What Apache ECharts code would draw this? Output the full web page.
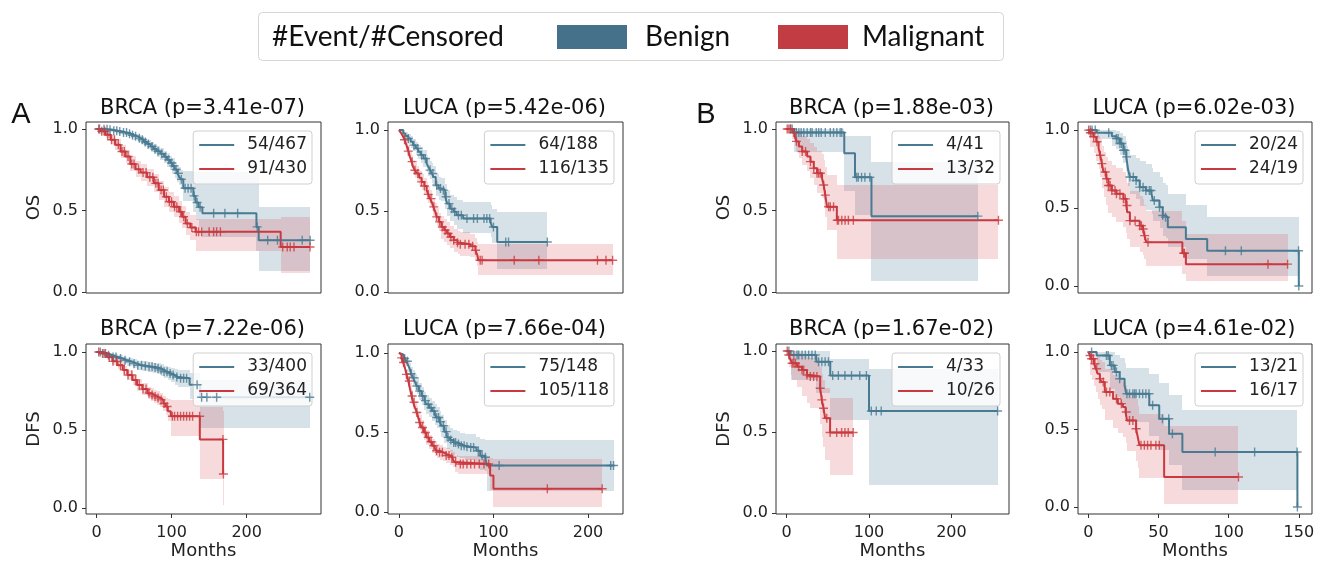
<!DOCTYPE html>
<html lang="en">
<head>
  <meta charset="UTF-8" />
  <title>Kaplan-Meier: Benign vs Malignant</title>
  <script src="https://cdn.jsdelivr.net/npm/echarts@6/dist/echarts.min.js"></script>
  <style>
    html, body { margin: 0; padding: 0; background: #fff; }
    #main { width: 1326px; height: 562px; }
  </style>
</head>
<body>
<div id="main"></div>
<script>
  // ---- A / OS / BRCA ----
  var aOsBrcaBenT = [0, 8, 15, 22, 28, 34, 41, 46, 50, 55, 59, 63, 67.5, 72, 76, 80, 85, 90, 94, 98, 101, 104, 107.5, 110, 112, 115.6, 129, 132, 136, 141, 213, 216, 285];
  var aOsBrcaBenS = [1, 0.998, 0.995, 0.99, 0.985, 0.978, 0.971, 0.962, 0.955, 0.944, 0.934, 0.921, 0.908, 0.893, 0.877, 0.864, 0.848, 0.83, 0.811, 0.792, 0.774, 0.752, 0.729, 0.71, 0.692, 0.637, 0.59, 0.55, 0.52, 0.483, 0.40, 0.318, 0.318];
  var aOsBrcaBenHi = [1, 1, 1, 0.998, 0.995, 0.99, 0.985, 0.978, 0.972, 0.964, 0.956, 0.945, 0.934, 0.922, 0.908, 0.897, 0.884, 0.868, 0.852, 0.836, 0.82, 0.80, 0.78, 0.765, 0.75, 0.74, 0.735, 0.735, 0.735, 0.735, 0.735, 0.52, 0.52];
  var aOsBrcaBenLo = [1, 0.994, 0.988, 0.98, 0.972, 0.963, 0.955, 0.944, 0.935, 0.922, 0.91, 0.895, 0.88, 0.862, 0.844, 0.828, 0.81, 0.79, 0.768, 0.746, 0.726, 0.702, 0.676, 0.654, 0.634, 0.56, 0.49, 0.44, 0.40, 0.34, 0.25, 0.13, 0.13];
  var aOsBrcaBenCens = [4, 10, 14, 18, 23, 27, 31, 36, 40, 44, 48, 52, 57, 61, 65, 69, 74, 78, 82, 87, 92, 96, 100, 103, 106, 109, 113, 118, 122, 126, 130, 134, 138, 156, 171, 188, 214, 228, 241, 274, 284.5];
  var aOsBrcaMalT = [0, 5.3, 12, 18.7, 25, 32, 38.7, 45, 52, 58.7, 67.5, 76.4, 83, 90, 96.4, 103, 110, 114, 118.7, 125, 132, 245.3, 284.4];
  var aOsBrcaMalS = [1, 0.986, 0.965, 0.934, 0.903, 0.862, 0.832, 0.786, 0.754, 0.733, 0.704, 0.667, 0.626, 0.585, 0.554, 0.524, 0.493, 0.462, 0.421, 0.396, 0.37, 0.277, 0.277];
  var aOsBrcaMalHi = [1, 0.998, 0.985, 0.962, 0.937, 0.9, 0.874, 0.832, 0.803, 0.784, 0.757, 0.722, 0.684, 0.646, 0.617, 0.588, 0.56, 0.53, 0.492, 0.47, 0.45, 0.46, 0.46];
  var aOsBrcaMalLo = [1, 0.972, 0.945, 0.906, 0.869, 0.824, 0.79, 0.74, 0.705, 0.682, 0.651, 0.612, 0.568, 0.524, 0.491, 0.46, 0.426, 0.394, 0.35, 0.32, 0.255, 0.12, 0.12];
  var aOsBrcaMalCens = [3, 7, 11, 15, 20, 24, 29, 34, 37, 42, 47, 50, 56, 62, 66, 71, 75, 79, 82, 86, 89, 93, 97, 100, 104, 107, 112, 116, 121, 127, 133, 136, 140, 150, 156, 160, 165, 248, 254, 258, 263, 284.4];

  // ---- A / OS / LUCA ----
  var aOsLucaBenT = [0, 4.6, 7, 10, 12.5, 15, 18, 20.5, 23, 26, 29.4, 31, 33, 35, 36.5, 39, 42, 45, 49, 51, 54, 58, 61, 68, 97, 98.6, 104, 157];
  var aOsLucaBenS = [1, 0.979, 0.964, 0.948, 0.928, 0.907, 0.887, 0.866, 0.846, 0.825, 0.794, 0.774, 0.753, 0.732, 0.711, 0.66, 0.639, 0.629, 0.588, 0.546, 0.515, 0.495, 0.474, 0.454, 0.43, 0.402, 0.309, 0.309];
  var aOsLucaBenHi = [1, 1, 0.99, 0.978, 0.962, 0.945, 0.928, 0.91, 0.893, 0.875, 0.848, 0.83, 0.812, 0.794, 0.776, 0.73, 0.712, 0.705, 0.668, 0.63, 0.602, 0.585, 0.567, 0.557, 0.54, 0.515, 0.495, 0.495];
  var aOsLucaBenLo = [1, 0.955, 0.935, 0.915, 0.892, 0.868, 0.846, 0.822, 0.799, 0.775, 0.741, 0.718, 0.695, 0.672, 0.649, 0.594, 0.571, 0.56, 0.515, 0.47, 0.436, 0.413, 0.39, 0.366, 0.34, 0.305, 0.145, 0.145];
  var aOsLucaBenCens = [10, 16, 20, 24, 28, 33, 36, 40, 44, 47, 50, 53, 56, 59, 63, 66, 72, 79, 83, 90, 93, 96, 100, 113, 116, 157];
  var aOsLucaMalT = [0, 2, 4, 6, 8, 10, 11.7, 13.5, 15, 17, 19, 21.5, 24, 27, 29.4, 31, 33, 35, 36.5, 38.5, 40, 42.5, 45, 48, 51, 54, 58, 62, 65, 75.5, 81, 83, 84, 226];
  var aOsLucaMalS = [1, 0.985, 0.965, 0.94, 0.907, 0.87, 0.835, 0.805, 0.773, 0.752, 0.732, 0.705, 0.68, 0.655, 0.629, 0.603, 0.577, 0.552, 0.526, 0.495, 0.464, 0.433, 0.402, 0.382, 0.361, 0.34, 0.32, 0.305, 0.295, 0.282, 0.258, 0.227, 0.196, 0.196];
  var aOsLucaMalHi = [1, 1, 0.99, 0.97, 0.94, 0.905, 0.873, 0.845, 0.815, 0.795, 0.776, 0.75, 0.727, 0.703, 0.678, 0.653, 0.628, 0.604, 0.579, 0.549, 0.519, 0.489, 0.47, 0.45, 0.43, 0.41, 0.39, 0.375, 0.37, 0.36, 0.335, 0.31, 0.295, 0.295];
  var aOsLucaMalLo = [1, 0.965, 0.94, 0.91, 0.872, 0.832, 0.795, 0.763, 0.729, 0.707, 0.686, 0.658, 0.632, 0.605, 0.578, 0.551, 0.524, 0.498, 0.471, 0.44, 0.408, 0.377, 0.33, 0.31, 0.29, 0.27, 0.25, 0.235, 0.225, 0.215, 0.19, 0.16, 0.105, 0.105];
  var aOsLucaMalCens = [6, 10, 14, 17, 20, 24, 27, 31, 34, 37, 40, 43, 46, 49, 52, 55, 58, 62, 65, 70, 74, 78, 81, 86, 88, 122, 148, 210, 219, 226];

  // ---- B / OS / BRCA ----
  var bOsBrcaBenT = [0, 9, 70, 83, 103, 232];
  var bOsBrcaBenS = [1, 0.979, 0.852, 0.704, 0.466, 0.466];
  var bOsBrcaBenHi = [1, 1, 0.955, 0.955, 0.795, 0.795];
  var bOsBrcaBenLo = [1, 0.86, 0.62, 0.47, 0.07, 0.07];
  var bOsBrcaBenCens = [4.8, 6.8, 12, 14.9, 17.7, 20.9, 25, 29, 31, 36, 39, 42, 47, 53, 57, 61, 65, 67, 85, 87, 91, 95, 101, 232];
  var bOsBrcaMalT = [0, 7, 10, 12, 15, 19, 25, 29, 33, 37, 43, 45, 47, 49, 61, 257];
  var bOsBrcaMalS = [1, 0.979, 0.955, 0.924, 0.893, 0.862, 0.832, 0.80, 0.76, 0.729, 0.698, 0.657, 0.595, 0.524, 0.441, 0.441];
  var bOsBrcaMalHi = [1, 1, 1, 0.99, 0.975, 0.955, 0.94, 0.915, 0.89, 0.865, 0.845, 0.81, 0.77, 0.72, 0.657, 0.657];
  var bOsBrcaMalLo = [1, 0.94, 0.90, 0.86, 0.82, 0.78, 0.745, 0.70, 0.655, 0.61, 0.575, 0.53, 0.46, 0.38, 0.205, 0.205];
  var bOsBrcaMalCens = [0.8, 2.8, 4.8, 8.8, 12, 19, 23, 29, 33, 37, 39, 41, 45, 47, 51, 53, 57, 61.5, 63, 67, 71, 75, 81, 257];

  // ---- B / OS / LUCA ----
  var bOsLucaBenT = [0, 6, 16.7, 20, 22.5, 25, 27, 27.7, 28.4, 29.6, 34, 36.6, 41, 45, 46, 50.7, 53, 55, 56.6, 69.5, 84.7, 150];
  var bOsLucaBenS = [1, 0.983, 0.961, 0.946, 0.914, 0.871, 0.828, 0.785, 0.742, 0.699, 0.677, 0.634, 0.613, 0.591, 0.548, 0.505, 0.452, 0.441, 0.376, 0.301, 0.226, 0];
  var bOsLucaBenHi = [1, 1, 1, 0.995, 0.98, 0.96, 0.93, 0.90, 0.87, 0.84, 0.82, 0.80, 0.78, 0.76, 0.73, 0.70, 0.66, 0.65, 0.59, 0.52, 0.445, 0.445];
  var bOsLucaBenLo = [1, 0.94, 0.90, 0.88, 0.84, 0.79, 0.74, 0.69, 0.64, 0.59, 0.56, 0.51, 0.49, 0.46, 0.42, 0.37, 0.32, 0.31, 0.25, 0.17, 0.065, 0.065];
  var bOsLucaBenCens = [1.4, 2.6, 4.9, 14.5, 20, 21.2, 22.5, 23.7, 25, 26, 27.2, 29.6, 32, 34, 36.6, 39, 41, 43.4, 44.6, 47, 50.7, 53, 55, 97.7, 109, 149.8, 150];
  var bOsLucaMalT = [0, 1.4, 3.8, 5.6, 7.3, 8.5, 9.6, 10.8, 12.7, 14.3, 16.7, 20, 25, 27, 27.7, 29.6, 36.6, 39, 40, 41.3, 67, 69.5, 142];
  var bOsLucaMalS = [1, 0.983, 0.957, 0.925, 0.882, 0.839, 0.785, 0.731, 0.688, 0.645, 0.613, 0.591, 0.559, 0.516, 0.473, 0.419, 0.387, 0.366, 0.323, 0.28, 0.21, 0.14, 0.14];
  var bOsLucaMalHi = [1, 1, 1, 0.99, 0.965, 0.94, 0.90, 0.86, 0.83, 0.80, 0.775, 0.76, 0.73, 0.70, 0.66, 0.61, 0.58, 0.56, 0.52, 0.48, 0.42, 0.335, 0.335];
  var bOsLucaMalLo = [1, 0.89, 0.85, 0.80, 0.75, 0.70, 0.63, 0.57, 0.52, 0.47, 0.44, 0.41, 0.38, 0.34, 0.30, 0.25, 0.22, 0.20, 0.17, 0.13, 0.08, 0.03, 0.03];
  var bOsLucaMalCens = [0.2, 1.4, 2.6, 3.8, 6.1, 8.5, 9.6, 12, 13.1, 14.3, 15.5, 16.7, 19, 20, 22.5, 25, 26.3, 27.5, 29.6, 33.3, 36.6, 37.8, 39, 40.1, 42.5, 68, 68.5, 128, 142];

  // ---- A / DFS / BRCA ----
  var aDfsBrcaBenT = [0, 8, 15, 22, 28, 35, 41, 48, 54, 61, 68, 75, 81, 86, 90, 95, 99, 104, 108, 124, 138, 285];
  var aDfsBrcaBenS = [1, 0.99, 0.979, 0.968, 0.958, 0.947, 0.937, 0.925, 0.915, 0.91, 0.905, 0.90, 0.894, 0.884, 0.873, 0.862, 0.852, 0.84, 0.831, 0.79, 0.71, 0.71];
  var aDfsBrcaBenHi = [1, 1, 0.99, 0.985, 0.978, 0.97, 0.962, 0.952, 0.945, 0.94, 0.936, 0.932, 0.928, 0.92, 0.912, 0.905, 0.898, 0.89, 0.885, 0.865, 0.82, 0.82];
  var aDfsBrcaBenLo = [1, 0.98, 0.965, 0.95, 0.938, 0.924, 0.91, 0.896, 0.885, 0.878, 0.872, 0.866, 0.858, 0.845, 0.833, 0.82, 0.806, 0.79, 0.775, 0.70, 0.515, 0.515];
  var aDfsBrcaBenCens = [5, 10, 16, 22, 26, 32, 38, 44, 50, 55, 60, 65, 70, 74, 78, 82, 86, 90, 94, 98, 102, 107, 112, 116, 120, 134, 140, 147, 160, 284];
  var aDfsBrcaMalT = [0, 7, 14, 21, 28, 35, 41, 48, 54, 61, 68, 73, 77, 81, 85, 89, 92, 95, 99, 137.6, 168.6, 169.2];
  var aDfsBrcaMalS = [1, 0.99, 0.968, 0.94, 0.915, 0.885, 0.852, 0.82, 0.789, 0.762, 0.736, 0.725, 0.715, 0.705, 0.693, 0.67, 0.651, 0.62, 0.588, 0.44, 0.218, 0.218];
  var aDfsBrcaMalHi = [1, 1, 0.985, 0.962, 0.94, 0.912, 0.882, 0.853, 0.825, 0.80, 0.775, 0.766, 0.758, 0.75, 0.74, 0.72, 0.705, 0.70, 0.69, 0.65, 0.62, 0.62];
  var aDfsBrcaMalLo = [1, 0.98, 0.952, 0.918, 0.89, 0.858, 0.822, 0.787, 0.753, 0.724, 0.697, 0.684, 0.672, 0.66, 0.646, 0.62, 0.597, 0.56, 0.46, 0.185, 0.02, 0.02];
  var aDfsBrcaMalCens = [3, 8, 12, 17, 22, 27, 32, 37, 42, 47, 52, 57, 62, 66, 70, 74, 78, 82, 86, 90, 94, 101, 104, 108, 112, 116, 120, 124, 128, 137.4, 168.4, 169];

  // ---- A / DFS / LUCA ----
  var aDfsLucaBenT = [0, 2, 4.6, 6, 8, 10, 11.7, 13, 15, 17, 18.7, 21, 24, 27, 29, 32, 35, 38, 40, 43, 45, 48, 50.5, 54, 57.6, 61, 64.7, 70, 75, 82, 86, 91, 93, 227];
  var aDfsLucaBenS = [1, 0.99, 0.979, 0.965, 0.948, 0.92, 0.896, 0.87, 0.844, 0.818, 0.792, 0.76, 0.729, 0.70, 0.677, 0.655, 0.635, 0.612, 0.594, 0.567, 0.542, 0.505, 0.469, 0.452, 0.4375, 0.427, 0.417, 0.41, 0.406, 0.385, 0.354, 0.344, 0.292, 0.292];
  var aDfsLucaBenHi = [1, 1, 0.995, 0.985, 0.975, 0.955, 0.935, 0.912, 0.89, 0.866, 0.842, 0.812, 0.783, 0.756, 0.735, 0.715, 0.697, 0.676, 0.66, 0.635, 0.612, 0.578, 0.545, 0.53, 0.516, 0.507, 0.498, 0.492, 0.49, 0.47, 0.462, 0.455, 0.452, 0.452];
  var aDfsLucaBenLo = [1, 0.975, 0.955, 0.94, 0.915, 0.882, 0.855, 0.826, 0.797, 0.768, 0.74, 0.706, 0.672, 0.642, 0.618, 0.595, 0.573, 0.55, 0.53, 0.50, 0.474, 0.435, 0.395, 0.375, 0.36, 0.348, 0.337, 0.33, 0.325, 0.30, 0.265, 0.255, 0.135, 0.135];
  var aDfsLucaBenCens = [6, 9, 13, 16, 19, 22, 25, 28, 31, 34, 37, 40, 42, 44, 47, 50, 52, 55, 58, 60, 63, 66, 69, 72, 76, 79, 84, 88, 91.5, 106, 224, 227];
  var aDfsLucaMalT = [0, 1, 2.8, 4.5, 6.4, 8, 10, 11.7, 13.4, 15, 17, 19, 20.5, 22, 24, 26.5, 29, 32, 35, 38, 40, 43, 47, 50, 54, 57, 59, 63, 96.5, 100, 215];
  var aDfsLucaMalS = [1, 0.99, 0.969, 0.94, 0.906, 0.865, 0.823, 0.775, 0.729, 0.69, 0.656, 0.625, 0.594, 0.563, 0.531, 0.50, 0.469, 0.442, 0.417, 0.40, 0.385, 0.375, 0.365, 0.355, 0.344, 0.33, 0.3125, 0.302, 0.229, 0.146, 0.146];
  var aDfsLucaMalHi = [1, 1, 0.99, 0.965, 0.935, 0.898, 0.858, 0.812, 0.768, 0.73, 0.698, 0.668, 0.638, 0.607, 0.576, 0.545, 0.514, 0.487, 0.462, 0.445, 0.43, 0.42, 0.41, 0.40, 0.39, 0.376, 0.36, 0.355, 0.34, 0.333, 0.333];
  var aDfsLucaMalLo = [1, 0.975, 0.945, 0.91, 0.872, 0.828, 0.784, 0.735, 0.688, 0.648, 0.612, 0.58, 0.548, 0.516, 0.484, 0.453, 0.423, 0.396, 0.372, 0.355, 0.34, 0.33, 0.32, 0.31, 0.298, 0.285, 0.25, 0.24, 0.14, 0.03, 0.03];
  var aDfsLucaMalCens = [3, 5, 8, 11, 14, 16, 19, 22, 25, 28, 31, 34, 37, 40, 43, 46, 50, 53, 56, 60, 65, 68, 72, 76, 80, 85, 90, 95, 157, 215];

  // ---- B / DFS / BRCA ----
  var bDfsBrcaBenT = [0, 4.8, 36, 53, 100, 256];
  var bDfsBrcaBenS = [1, 0.975, 0.934, 0.848, 0.63, 0.63];
  var bDfsBrcaBenHi = [1, 1, 1, 0.95, 0.887, 0.887];
  var bDfsBrcaBenLo = [1, 0.82, 0.74, 0.575, 0.175, 0.175];
  var bDfsBrcaBenCens = [2.8, 8.8, 12.8, 14.8, 18.8, 22.8, 26.8, 30.8, 34.8, 38.8, 42.8, 46.8, 50.8, 56, 62.8, 70.8, 78.8, 88.8, 96.8, 102.8, 108.8, 114.8, 256];
  var bDfsBrcaMalT = [0, 2.8, 4.8, 6.8, 12.8, 18.8, 24.8, 28.8, 40.8, 42.8, 44.8, 46.8, 52.8, 80.8];
  var bDfsBrcaMalS = [1, 0.975, 0.945, 0.924, 0.903, 0.883, 0.852, 0.842, 0.77, 0.698, 0.647, 0.585, 0.497, 0.497];
  var bDfsBrcaMalHi = [1, 1, 1, 1, 0.99, 0.98, 0.96, 0.955, 0.90, 0.86, 0.82, 0.77, 0.71, 0.71];
  var bDfsBrcaMalLo = [1, 0.90, 0.85, 0.82, 0.78, 0.72, 0.68, 0.65, 0.55, 0.47, 0.41, 0.33, 0.235, 0.235];
  var bDfsBrcaMalCens = [0.8, 2.8, 6.8, 8.8, 10.8, 14.8, 18.8, 20.8, 24.8, 28.8, 32.8, 36.8, 40.8, 42.8, 44.8, 48.8, 52.8, 60.8, 66.8, 70.8, 74.8, 80.8];

  // ---- B / DFS / LUCA ----
  var bDfsLucaBenT = [0, 5.9, 15.3, 18.8, 22.3, 25.8, 27, 43.4, 50.5, 57.5, 67, 149];
  var bDfsLucaBenS = [1, 0.978, 0.914, 0.871, 0.828, 0.785, 0.731, 0.656, 0.57, 0.473, 0.355, 0];
  var bDfsLucaBenHi = [1, 1, 1, 0.98, 0.96, 0.93, 0.90, 0.86, 0.80, 0.72, 0.625, 0.625];
  var bDfsLucaBenLo = [1, 0.87, 0.76, 0.71, 0.66, 0.61, 0.55, 0.46, 0.37, 0.27, 0.11, 0.11];
  var bDfsLucaBenCens = [2.3, 12.9, 14.1, 16.4, 17.6, 20, 22.3, 27.5, 29.3, 31.7, 32.9, 34, 36.4, 38.7, 41, 43.2, 45.8, 52.8, 57.3, 59.9, 90.4, 118.5, 148.8, 149];
  var bDfsLucaMalT = [0, 1.2, 2.3, 4, 5.4, 6.6, 8.2, 9.4, 11.7, 17.6, 21, 24.6, 26.5, 27.5, 34, 35.2, 36.4, 54, 107];
  var bDfsLucaMalS = [1, 0.978, 0.957, 0.925, 0.892, 0.86, 0.828, 0.806, 0.742, 0.699, 0.667, 0.645, 0.613, 0.559, 0.505, 0.452, 0.398, 0.194, 0.194];
  var bDfsLucaMalHi = [1, 1, 1, 1, 0.99, 0.97, 0.95, 0.935, 0.89, 0.855, 0.83, 0.81, 0.785, 0.74, 0.70, 0.65, 0.60, 0.52, 0.52];
  var bDfsLucaMalLo = [1, 0.85, 0.82, 0.78, 0.74, 0.70, 0.66, 0.635, 0.56, 0.51, 0.475, 0.45, 0.415, 0.36, 0.30, 0.25, 0.19, 0.02, 0.02];
  var bDfsLucaMalCens = [1.2, 2.3, 3.5, 4.7, 5.9, 8.2, 10.6, 12.9, 15.3, 20, 23.5, 27, 29.3, 31.7, 34, 37.5, 39.9, 42.2, 44.6, 48.1, 50.5, 107];

  var yTicks = [0, 0.5, 1];
  var xTicks200 = [0, 100, 200];
  var xTicks150 = [0, 50, 100, 150];

  // layout (px)
  var colLeft = [86, 388, 776, 1078];
  var colWidth = [235, 235, 233, 234];
  var rowTop = [122, 344];
  var rowHeight = [171, 170];
  var colX = [[-14, 299], [-11.5, 237], [-12.8, 269.8], [-7.4, 159.4]];

  var BLUE = '#487a91', RED = '#c9393f';
  var BLUE_BAND = 'rgba(75,125,150,0.22)', RED_BAND = 'rgba(215,70,80,0.2)';
  var PLUS = 'path://M0,3.8H9V5.2H0ZM3.8,0H5.2V9H3.8Z';
  var FONT = 'DejaVu Sans';

  var panels = [
    { row: 0, col: 0, title: 'BRCA (p=3.41e-07)', ylabel: 'OS', yr: [-0.005, 1.043], xt: xTicks200,
      ben: ['54/467', aOsBrcaBenT, aOsBrcaBenS, aOsBrcaBenHi, aOsBrcaBenLo, aOsBrcaBenCens],
      mal: ['91/430', aOsBrcaMalT, aOsBrcaMalS, aOsBrcaMalHi, aOsBrcaMalLo, aOsBrcaMalCens] },
    { row: 0, col: 1, title: 'LUCA (p=5.42e-06)', ylabel: '', yr: [-0.006, 1.05], xt: xTicks200,
      ben: ['64/188', aOsLucaBenT, aOsLucaBenS, aOsLucaBenHi, aOsLucaBenLo, aOsLucaBenCens],
      mal: ['116/135', aOsLucaMalT, aOsLucaMalS, aOsLucaMalHi, aOsLucaMalLo, aOsLucaMalCens] },
    { row: 0, col: 2, title: 'BRCA (p=1.88e-03)', ylabel: 'OS', yr: [-0.005, 1.043], xt: xTicks200,
      ben: ['4/41', bOsBrcaBenT, bOsBrcaBenS, bOsBrcaBenHi, bOsBrcaBenLo, bOsBrcaBenCens],
      mal: ['13/32', bOsBrcaMalT, bOsBrcaMalS, bOsBrcaMalHi, bOsBrcaMalLo, bOsBrcaMalCens] },
    { row: 0, col: 3, title: 'LUCA (p=6.02e-03)', ylabel: '', yr: [-0.045, 1.052], xt: xTicks150,
      ben: ['20/24', bOsLucaBenT, bOsLucaBenS, bOsLucaBenHi, bOsLucaBenLo, bOsLucaBenCens],
      mal: ['24/19', bOsLucaMalT, bOsLucaMalS, bOsLucaMalHi, bOsLucaMalLo, bOsLucaMalCens] },
    { row: 1, col: 0, title: 'BRCA (p=7.22e-06)', ylabel: 'DFS', yr: [-0.038, 1.051], xt: xTicks200,
      ben: ['33/400', aDfsBrcaBenT, aDfsBrcaBenS, aDfsBrcaBenHi, aDfsBrcaBenLo, aDfsBrcaBenCens],
      mal: ['69/364', aDfsBrcaMalT, aDfsBrcaMalS, aDfsBrcaMalHi, aDfsBrcaMalLo, aDfsBrcaMalCens] },
    { row: 1, col: 1, title: 'LUCA (p=7.66e-04)', ylabel: '', yr: [-0.0125, 1.056], xt: xTicks200,
      ben: ['75/148', aDfsLucaBenT, aDfsLucaBenS, aDfsLucaBenHi, aDfsLucaBenLo, aDfsLucaBenCens],
      mal: ['105/118', aDfsLucaMalT, aDfsLucaMalS, aDfsLucaMalHi, aDfsLucaMalLo, aDfsLucaMalCens] },
    { row: 1, col: 2, title: 'BRCA (p=1.67e-02)', ylabel: 'DFS', yr: [-0.006, 1.043], xt: xTicks200,
      ben: ['4/33', bDfsBrcaBenT, bDfsBrcaBenS, bDfsBrcaBenHi, bDfsBrcaBenLo, bDfsBrcaBenCens],
      mal: ['10/26', bDfsBrcaMalT, bDfsBrcaMalS, bDfsBrcaMalHi, bDfsBrcaMalLo, bDfsBrcaMalCens] },
    { row: 1, col: 3, title: 'LUCA (p=4.61e-02)', ylabel: '', yr: [-0.045, 1.052], xt: xTicks150,
      ben: ['13/21', bDfsLucaBenT, bDfsLucaBenS, bDfsLucaBenHi, bDfsLucaBenLo, bDfsLucaBenCens],
      mal: ['16/17', bDfsLucaMalT, bDfsLucaMalS, bDfsLucaMalHi, bDfsLucaMalLo, bDfsLucaMalCens] }
  ];

  // survival value at time t (step function)
  function survAt(ts, ss, t) {
    var k = 0;
    for (var j = 0; j < ts.length; j++) {
      if (ts[j] <= t) k = j;
    }
    return ss[k];
  }

  function bandItem(params, api) {
    var a = api.coord([api.value(0), api.value(3)]);
    var b = api.coord([api.value(1), api.value(2)]);
    var l = Math.round(a[0]), r = Math.round(b[0]);
    var t = Math.round(a[1]), btm = Math.round(b[1]);
    return {
      type: 'rect',
      shape: { x: l, y: t, width: r - l, height: btm - t },
      style: { fill: api.visual('color') }
    };
  }

  var grid = [], xAxis = [], yAxis = [], series = [], legend = [], graphic = [];

  panels.forEach(function (p, i) {
    var left = colLeft[p.col], width = colWidth[p.col];
    var top = rowTop[p.row], height = rowHeight[p.row];
    var bottomRow = p.row === 1;

    grid.push({ left: left, top: top, width: width, height: height, show: true,
      borderColor: '#333', borderWidth: 1, outerBoundsMode: 'none' });

    xAxis.push({
      type: 'value', gridIndex: i, min: colX[p.col][0], max: colX[p.col][1],
      axisLine: { show: false, onZero: false }, splitLine: { show: false },
      axisTick: { show: bottomRow, length: 4, lineStyle: { color: '#333' }, customValues: p.xt },
      axisLabel: { show: bottomRow, customValues: p.xt, margin: 11, fontSize: 16, color: '#222', fontFamily: FONT },
      name: bottomRow ? 'Months' : '', nameLocation: 'middle', nameGap: 24,
      nameTextStyle: { fontSize: 18, color: '#222', fontFamily: FONT }
    });

    yAxis.push({
      type: 'value', gridIndex: i, min: p.yr[0], max: p.yr[1],
      axisLine: { show: false, onZero: false }, splitLine: { show: false },
      axisTick: { show: true, length: 4, lineStyle: { color: '#333' }, customValues: yTicks },
      axisLabel: { customValues: yTicks, margin: 8, fontSize: 16, color: '#222', fontFamily: FONT,
        formatter: function (v) { return v.toFixed(1); } },
      name: p.ylabel, nameLocation: 'middle', nameGap: 43, nameRotate: 90,
      nameTextStyle: { fontSize: 18, color: '#222', fontFamily: FONT }
    });

    [[p.ben, BLUE, BLUE_BAND], [p.mal, RED, RED_BAND]].forEach(function (g) {
      var d = g[0], ts = d[1], ss = d[2], hi = d[3], lo = d[4], cens = d[5];
      var segs = [];
      for (var j = 0; j < ts.length - 1; j++) segs.push([ts[j], ts[j + 1], lo[j], hi[j]]);
      series.push({
        type: 'custom', name: d[0] + ' ci', xAxisIndex: i, yAxisIndex: i,
        renderItem: bandItem, data: segs, encode: { x: [0, 1], y: [2, 3] },
        itemStyle: { color: g[2] }, silent: true, z: 1, clip: true
      });
      series.push({
        type: 'line', name: d[0], xAxisIndex: i, yAxisIndex: i, step: 'end',
        data: ts.map(function (t, j) { return [t, ss[j]]; }),
        symbol: 'none', showSymbol: false, color: g[1],
        lineStyle: { width: 2, color: g[1] }, silent: true, z: 3
      });
      series.push({
        type: 'scatter', name: d[0] + ' censored', xAxisIndex: i, yAxisIndex: i,
        data: cens.map(function (c) { return [c, survAt(ts, ss, c)]; }),
        symbol: PLUS, symbolSize: 9, itemStyle: { color: g[1] }, silent: true, z: 4
      });
    });

    legend.push({
      orient: 'vertical', right: 1326 - (left + width - 9), top: top + 9,
      data: [p.ben[0], p.mal[0]], icon: 'rect', itemWidth: 35, itemHeight: 2, itemGap: 4,
      padding: [4, 5, 5, 6], backgroundColor: 'rgba(255,255,255,0.8)',
      borderColor: '#cfcfcf', borderWidth: 1, borderRadius: 3, selectedMode: false,
      textStyle: { fontSize: 17, lineHeight: 20, color: '#222', fontFamily: FONT, padding: [0, 0, 0, 8] }
    });

    graphic.push({
      type: 'text', x: left + width / 2 - 1, y: p.row === 0 ? 108.5 : 329.5,
      style: { text: p.title, font: '21px "DejaVu Sans"', fill: '#111',
        align: 'center', verticalAlign: 'middle', textAlign: 'center', textVerticalAlign: 'middle' }
    });
  });

  // panel letters
  [['A', 21], ['B', 706]].forEach(function (l) {
    graphic.push({
      type: 'text', x: l[1], y: 115,
      style: { text: l[0], font: '29px "Liberation Sans"', fill: '#111',
        align: 'center', verticalAlign: 'middle', textAlign: 'center', textVerticalAlign: 'middle' }
    });
  });

  // shared legend box on top
  graphic.push({ type: 'rect', shape: { x: 258.5, y: 12.5, width: 745, height: 48, r: 4 },
    style: { fill: '#fff', stroke: '#d6d6d6', lineWidth: 1 } });
  graphic.push({ type: 'rect', shape: { x: 557, y: 25, width: 70, height: 24 }, style: { fill: '#46718a' } });
  graphic.push({ type: 'rect', shape: { x: 778, y: 25, width: 70, height: 24 }, style: { fill: '#c23d43' } });
  [['#Event/#Censored', 272], ['Benign', 645], ['Malignant', 862]].forEach(function (l) {
    graphic.push({
      type: 'text', x: l[1], y: 37,
      style: { text: l[0], font: '28px Lato', fill: '#111',
        align: 'left', verticalAlign: 'middle', textAlign: 'left', textVerticalAlign: 'middle' }
    });
  });

  var chart = echarts.init(document.getElementById('main'), null, { renderer: 'canvas' });
  chart.setOption({
    animation: false,
    backgroundColor: '#fff',
    grid: grid,
    xAxis: xAxis,
    yAxis: yAxis,
    legend: legend,
    series: series,
    graphic: graphic
  });
</script>
</body>
</html>
